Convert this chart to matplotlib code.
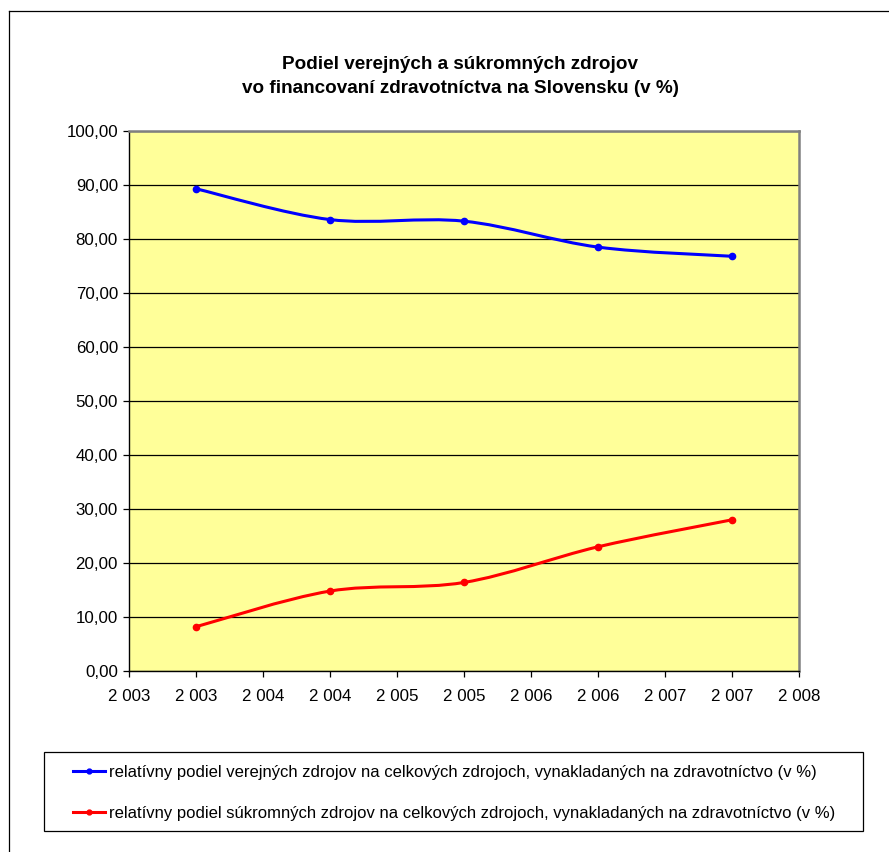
import numpy as np
import matplotlib
matplotlib.use("Agg")
import matplotlib.pyplot as plt
from matplotlib.path import Path
from matplotlib.patches import PathPatch, Rectangle
from matplotlib.lines import Line2D

# ---------------------------------------------------------------------------
# Data
# ---------------------------------------------------------------------------
years = [2003, 2004, 2005, 2006, 2007]
public_share = [89.3, 83.6, 83.3, 78.5, 76.8]
private_share = [8.2, 14.8, 16.4, 23.0, 28.0]

x_ticks = [2002.5, 2003.0, 2003.5, 2004.0, 2004.5, 2005.0,
           2005.5, 2006.0, 2006.5, 2007.0, 2007.5]
x_tick_labels = ["2 003", "2 003", "2 004", "2 004", "2 005", "2 005",
                 "2 006", "2 006", "2 007", "2 007", "2 008"]
y_ticks = [0, 10, 20, 30, 40, 50, 60, 70, 80, 90, 100]
y_tick_labels = ["0,00", "10,00", "20,00", "30,00", "40,00", "50,00",
                 "60,00", "70,00", "80,00", "90,00", "100,00"]

title = ("Podiel verejných a súkromných zdrojov\n"
         "vo financovaní zdravotníctva na Slovensku (v %)")
label_public = ("relatívny podiel verejných zdrojov na celkových zdrojoch, "
                "vynakladaných na zdravotníctvo (v %)")
label_private = ("relatívny podiel súkromných zdrojov na celkových zdrojoch, "
                 "vynakladaných na zdravotníctvo (v %)")

plt.rcParams["font.family"] = ["Liberation Sans", "DejaVu Sans"]

W, H = 889, 852


def smooth_path(xs, ys):
    """Excel-like smoothed line (Catmull-Rom as cubic Bezier)."""
    pts = np.column_stack([xs, ys]).astype(float)
    verts = [pts[0]]
    codes = [Path.MOVETO]
    n = len(pts)
    for i in range(n - 1):
        p0 = pts[i - 1] if i > 0 else pts[i]
        p1 = pts[i]
        p2 = pts[i + 1]
        p3 = pts[i + 2] if i + 2 < n else pts[i + 1]
        c1 = p1 + (p2 - p0) / 6.0
        c2 = p2 - (p3 - p1) / 6.0
        verts += [c1, c2, p2]
        codes += [Path.CURVE4] * 3
    return Path(verts, codes)


fig = plt.figure(figsize=(W / 100, H / 100), dpi=100)
fig.patch.set_facecolor("white")

# outer chart border (only left and top edges are visible in the crop)
fig.add_artist(Line2D([9 / W, 9 / W], [0, 1 - 11 / H], color="black", lw=0.9))
fig.add_artist(Line2D([9 / W, 1], [1 - 11 / H, 1 - 11 / H], color="black", lw=0.9))

ax = fig.add_axes([129 / W, 1 - 671 / H, (799 - 129) / W, (671 - 131) / H])
ax.set_facecolor("#FFFF99")
ax.set_xlim(2002.5, 2007.5)
ax.set_ylim(0, 100)

ax.set_xticks(x_ticks)
ax.set_xticklabels(x_tick_labels)
ax.set_yticks(y_ticks)
ax.set_yticklabels(y_tick_labels)
ax.tick_params(axis="both", direction="out", length=4, width=0.9,
               color="black", labelsize=12.2, labelcolor="black")
ax.tick_params(axis="y", pad=4)
ax.tick_params(axis="x", pad=9)

ax.grid(axis="y", color="black", lw=0.9)
ax.set_axisbelow(True)

for side in ("left", "bottom"):
    ax.spines[side].set_color("black")
    ax.spines[side].set_linewidth(1.0)
for side in ("top", "right"):
    ax.spines[side].set_color("#808080")
    ax.spines[side].set_linewidth(1.8)

for ys, col in ((public_share, "#0000FF"), (private_share, "#FF0000")):
    ax.add_patch(PathPatch(smooth_path(years, ys), facecolor="none",
                           edgecolor=col, lw=2.2, zorder=3))
    ax.plot(years, ys, linestyle="none", marker="o", markersize=4.5,
            color=col, zorder=4)

fig.text(460 / W, 1 - 76.5 / H, title, ha="center", va="center",
         fontsize=13.6, fontweight="bold", linespacing=1.5)

# legend box
fig.add_artist(Rectangle((44 / W, 1 - 831 / H), (863 - 44) / W, (831 - 752) / H,
                         transform=fig.transFigure, facecolor="white",
                         edgecolor="black", lw=0.9))
handles = [
    Line2D([], [], color="#0000FF", lw=2.2, marker="o", markersize=3.5),
    Line2D([], [], color="#FF0000", lw=2.2, marker="o", markersize=3.5),
]
fig.legend(handles, [label_public, label_private], loc="upper left",
           bbox_to_anchor=(73 / W, 1 - 765 / H), frameon=False,
           fontsize=11.95, handlelength=1.95, handletextpad=0.2,
           labelspacing=1.55, borderpad=0, borderaxespad=0)

fig.savefig("out.png", dpi=100)
